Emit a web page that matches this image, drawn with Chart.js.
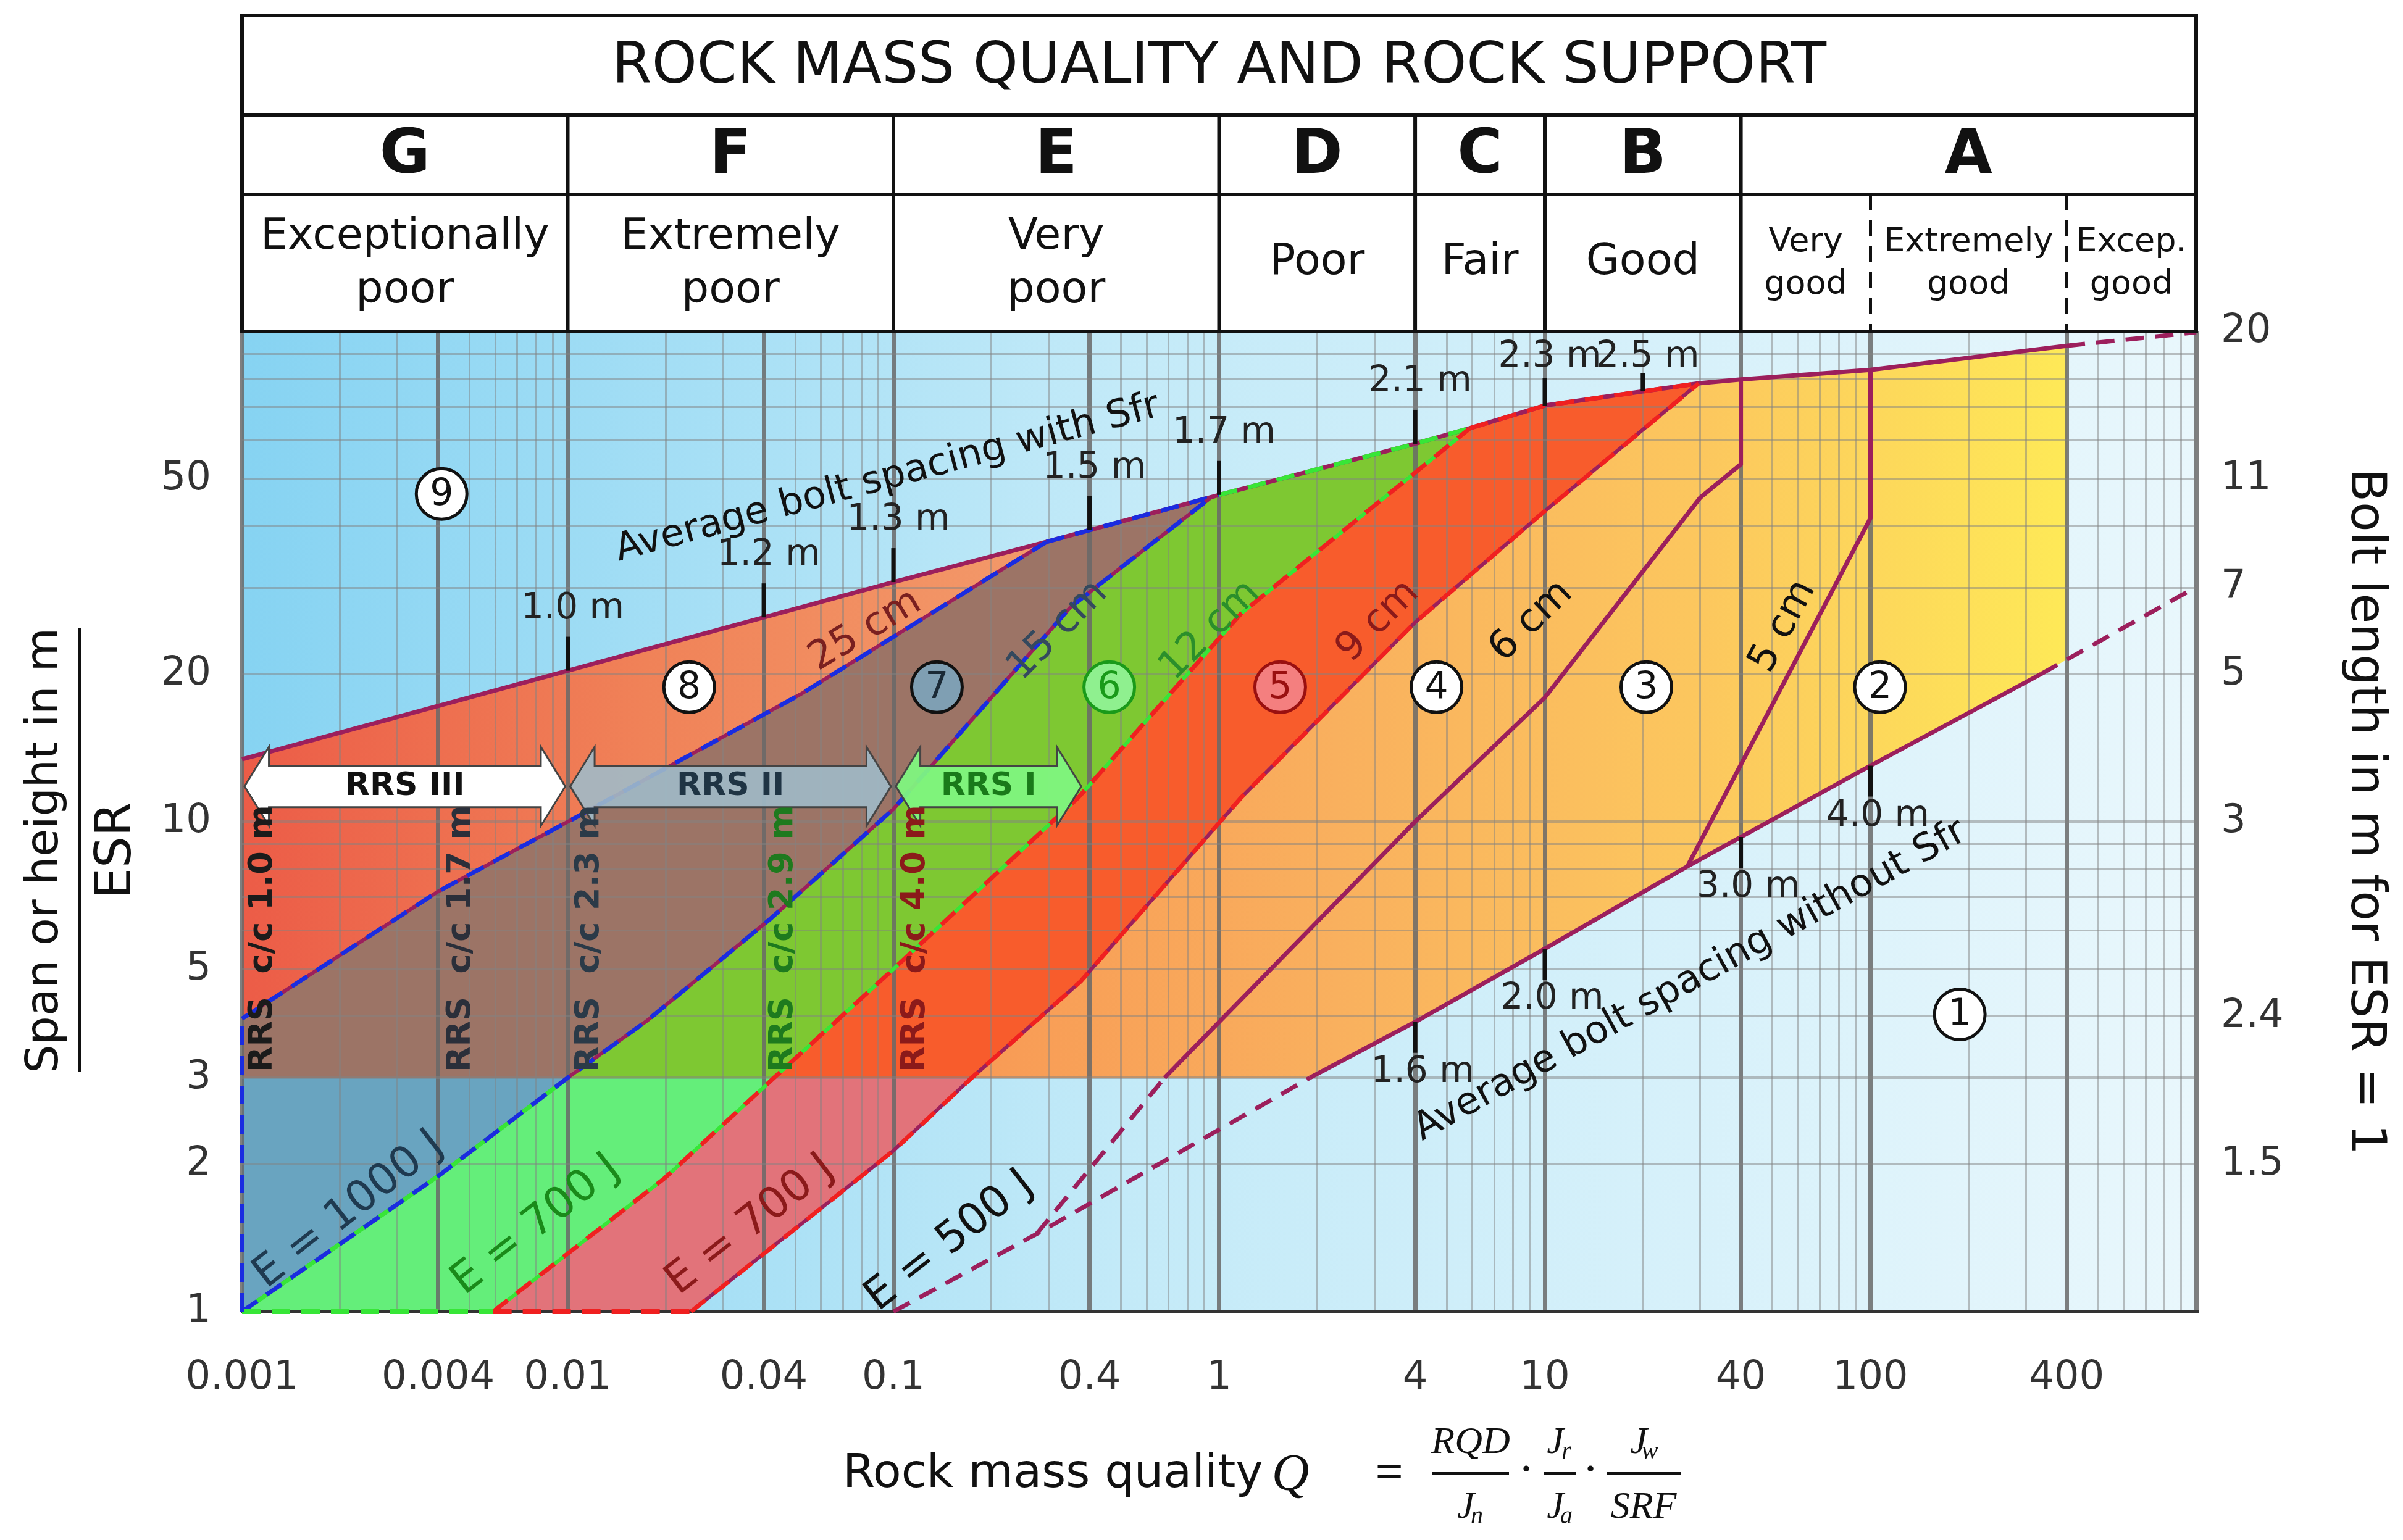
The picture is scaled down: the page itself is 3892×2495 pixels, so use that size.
<!DOCTYPE html>
<html><head><meta charset="utf-8">
<script src="https://cdn.jsdelivr.net/npm/chart.js@4.4.1/dist/chart.umd.min.js"></script>
<style>html,body{margin:0;padding:0;background:#fff}canvas{display:block}</style>
</head><body>
<canvas id="c" width="3892" height="2495" style="width:3892px;height:2495px"></canvas>
<script>
// ---------- DATA (Q, Span/ESR) ----------
const TOP_LINE = [[0.001,13.4],[0.1,30.8],[0.295,37.2],[1,46.4],[4,59],[5.9,63.5],[10,70.6],[29.7,78.4],[40,79.8],[100,83.5],[400,93.5]];
const TOP_DASH = [[400,93.5],[1000,99.6]];
const LINE_25CM = [[0.001,3.96],[0.004,7.2],[0.0115,10.5],[0.052,18.2],[0.295,37.2]];
const LINE_15CM = [[0.001,1],[0.004,1.89],[0.01,3],[0.0175,3.92],[0.042,6.34],[0.1,10.6],[0.35,27.4],[0.95,46.0]];
const LINE_12CM = [[0.0059,1],[0.0198,1.87],[0.043,3],[0.1,5],[0.37,11.2],[1.17,26.6],[5.9,63.5]];
const LINE_9CM = [[0.0239,1],[0.1,2.13],[0.174,3],[0.376,4.72],[1.17,11.2],[4,25.5],[10,43],[29.7,78.4]];
const LINE_6CM_DASH = [[0.275,1.44],[0.68,3]];
const LINE_6CM = [[0.68,3],[4,10],[10,17.9],[30,45.8],[40,53.6],[40,79.8]];
const LINE_5CM = [[27.4,8.1],[100,41.6],[100,83.5]];
const BOTTOM_DASH_A = [[0.1,1],[0.275,1.44],[1.9,3]];
const BOTTOM_LINE = [[1.9,3],[4,3.9],[10,5.5],[27.4,8.1],[100,13],[334,20]];
const BOTTOM_DASH_B = [[334,20],[1000,30.1]];
const BASE_GREEN = [[0.001,1],[0.0059,1]];
const BASE_RED = [[0.0059,1],[0.0239,1]];
const LEFT_EDGE = [[0.001,1],[0.001,3.96]];

const X_TICK_VALUES = [0.001,0.004,0.01,0.04,0.1,0.4,1,4,10,40,100,400];
const X_TICK_LABELS = ['0.001','0.004','0.01','0.04','0.1','0.4','1','4','10','40','100','400'];
const Y_TICK_VALUES = [1,2,3,5,10,20,50];
const Y_TICK_LABELS = ['1','2','3','5','10','20','50'];
const Y2_TICK_VALUES = [2,4,10,20,30,50,100];
const Y2_TICK_LABELS = ['1.5','2.4','3','5','7','11','20'];

const CLASS_BOUNDS = [0.001,0.01,0.1,1,4,10,40,1000];
const CLASS_LETTERS = ['G','F','E','D','C','B','A'];
const CLASS_NAMES = [['Exceptionally','poor'],['Extremely','poor'],['Very','poor'],['Poor'],['Fair'],['Good']];
const A_BOUNDS = [40,100,400,1000];
const A_NAMES = [['Very','good'],['Extremely','good'],['Excep.','good']];

const CIRCLES = [[188,4.04,'1'],[107,18.8,'2'],[20.5,18.8,'3'],[4.65,18.8,'4'],[1.54,18.8,'5'],[0.46,18.8,'6'],[0.136,18.8,'7'],[0.0236,18.8,'8'],[0.0041,46.6,'9']];
const TOP_TICK_Q = [0.01,0.04,0.1,0.4,1,4,10,20];
const TOP_TICK_LABELS = ['1.0 m','1.2 m','1.3 m','1.5 m','1.7 m','2.1 m','2.3 m','2.5 m'];
const BOT_TICK_Q = [4,10,40,100];
const BOT_TICK_LABELS = ['1.6 m','2.0 m','3.0 m','4.0 m'];
const LINE_LABELS = [['25 cm',0.082,24.5,-31,'#7a2020'],['15 cm',0.32,24.5,-45,'#34495e'],['12 cm',0.94,24.5,-45,'#2b8f2b'],['9 cm',3.08,25.6,-45,'#8b1a1a'],['6 cm',9.1,25.6,-44,'#111'],['5 cm',54,25,-62,'#111']];
const E_LABELS = [['E = 1000 J',0.00213,1.61,'#1f3a50'],['E = 700 J',0.008,1.5,'#1a8a1a'],['E = 700 J',0.0364,1.5,'#8b1a1a'],['E = 500 J',0.149,1.39,'#111']];
const RRS_Q = [0.00116,0.0047,0.0117,0.046,0.117];
const RRS_TEXT = ['RRS  c/c 1.0 m','RRS  c/c 1.7 m','RRS  c/c 2.3 m','RRS  c/c 2.9 m','RRS  c/c 4.0 m'];
const RRS_COLORS = ['#1b1b1b','#2b2f3a','#2b3a48','#1e7a1e','#8b1a1a'];
const ARROWS = [['RRS III',0.001,0.01,'#ffffff','#111'],['RRS II',0.01,0.1,'rgba(160,186,200,0.9)','#1f3444'],['RRS I',0.1,0.384,'rgba(128,245,128,0.95)','#1a7a1a']];
const ARROW_S = [9.8,10.7,13.0,14.2];

// ---------- helpers ----------
const PURPLE = '#9c1f5c';
const nice = v => Number(v.toPrecision(6));
const XGRID = []; for (let d=-3; d<=2; d++) for (let m=1; m<=9; m++) XGRID.push(nice(m*Math.pow(10,d))); XGRID.push(1000);
const YGRID = []; for (let d=0; d<=1; d++) for (let m=1; m<=9; m++) YGRID.push(nice(m*Math.pow(10,d))); YGRID.push(100);
const near = (a,b)=>Math.abs(a-b)<=1e-9*Math.max(1,Math.abs(b));
const lbl = (vals,labels,v)=>{ const i = vals.findIndex(x=>near(x,v)); return i<0?'':labels[i]; };
function interp(line,q){
  for (let i=0;i<line.length-1;i++){ const [q1,s1]=line[i],[q2,s2]=line[i+1];
    if (q>=q1 && q<=q2 && q2>q1){ const f=(Math.log10(q)-Math.log10(q1))/(Math.log10(q2)-Math.log10(q1)); return Math.pow(10,Math.log10(s1)+f*(Math.log10(s2)-Math.log10(s1))); } }
  return line[line.length-1][1];
}
function ds(arr,color,width,dash,offset){ return {data:arr.map(p=>({x:p[0],y:p[1]})),borderColor:color,borderWidth:width,borderDash:dash||[],borderDashOffset:offset||0,pointRadius:0,fill:false,tension:0,clip:30}; }
const DASH=[30,18];

// listed bottom-to-top; order property makes later ones draw on top
const layers = [
  ds(TOP_LINE,PURPLE,7), ds(TOP_DASH,PURPLE,7,DASH),
  ds(TOP_LINE.filter(p=>p[0]>=0.295&&p[0]<=1),'#1a2ce0',7,DASH),
  ds(TOP_LINE.filter(p=>p[0]>=1&&p[0]<=5.9),'#37e637',7,DASH),
  ds(TOP_LINE.filter(p=>p[0]>=5.9&&p[0]<=29.7),'#f02020',7,DASH),
  ds(LINE_25CM,PURPLE,6), ds(LINE_25CM,'#1a2ce0',7,DASH),
  ds(LINE_15CM,PURPLE,6), ds(LINE_15CM.filter(p=>p[0]<=0.01),'#37e637',7,DASH,24), ds(LINE_15CM,'#1a2ce0',7,DASH),
  ds(LINE_12CM,'#37e637',6), ds(LINE_12CM,'#f02020',7,DASH),
  ds(LINE_9CM,PURPLE,6), ds(LINE_9CM,'#f02020',7,DASH),
  ds(LINE_6CM,PURPLE,7), ds(LINE_6CM_DASH,PURPLE,7,DASH),
  ds(LINE_5CM,PURPLE,7),
  ds(BOTTOM_DASH_A,PURPLE,7,DASH), ds(BOTTOM_LINE,PURPLE,7), ds(BOTTOM_DASH_B,PURPLE,7,DASH),
  ds(BASE_GREEN,'#37e637',8,DASH), ds(BASE_RED,'#f02020',8,DASH), ds(LEFT_EDGE,'#1a2ce0',7,DASH)
];
layers.forEach((d,i)=>{ d.order = layers.length - i; });
const datasets = layers;

function txt(ctx,s,x,y,font,color,angle,align,base){
  ctx.save(); ctx.translate(x,y); ctx.rotate((angle||0)*Math.PI/180);
  ctx.font=font; ctx.fillStyle=color; ctx.textAlign=align||'center'; ctx.textBaseline=base||'middle';
  ctx.fillText(s,0,0); ctx.restore();
}
function fitFont(ctx,s,width,weight,family){ ctx.font=`${weight} 100px ${family}`; const w=ctx.measureText(s).width; return `${weight} ${Math.round(100*width/w)}px ${family}`; }
const SANS='"DejaVu Sans", sans-serif';

const plugin = {
  id:'rock',
  beforeDraw(chart){
    const {ctx, chartArea:a} = chart; const X=chart.scales.x, Y=chart.scales.y;
    const P = p=>[X.getPixelForValue(p[0]), Y.getPixelForValue(p[1])];
    ctx.save();
    ctx.fillStyle='#fff'; ctx.fillRect(0,0,chart.width,chart.height);
    const g=ctx.createLinearGradient(a.left,0,a.right,0);
    g.addColorStop(0,'#86d3f2'); g.addColorStop(0.45,'#c3eaf8'); g.addColorStop(1,'#e9f7fc');
    ctx.fillStyle=g; ctx.fillRect(a.left,a.top,a.right-a.left,a.bottom-a.top);
    const poly=(pts,fill)=>{ ctx.beginPath(); pts.forEach((p,i)=>{const [x,y]=P(p); i?ctx.lineTo(x,y):ctx.moveTo(x,y);}); ctx.closePath(); ctx.fillStyle=fill; ctx.fill(); };
    const hg=(q1,q2,stops)=>{ const gg=ctx.createLinearGradient(X.getPixelForValue(q1),0,X.getPixelForValue(q2),0); stops.forEach((c,i)=>gg.addColorStop(i/(stops.length-1),c)); return gg; };
    poly([...TOP_LINE.filter(p=>p[0]<=0.295), ...LINE_25CM.slice().reverse()], hg(0.001,0.3,['#ec5c47','#f08258','#f39a6a']));
    poly([[0.001,3],...LINE_25CM, ...LINE_15CM.filter(p=>p[0]>=0.01).reverse()], '#9c7466');
    poly([[0.001,1],[0.001,3],[0.01,3], ...LINE_15CM.filter(p=>p[0]<=0.01).reverse()], '#69a4c0');
    poly([...LINE_15CM.filter(p=>p[0]>=0.01), ...TOP_LINE.filter(p=>p[0]>0.95&&p[0]<5.9), ...LINE_12CM.filter(p=>p[0]>=0.043).reverse()], '#7ec832');
    poly([...LINE_15CM.filter(p=>p[0]<=0.01), ...LINE_12CM.filter(p=>p[0]<=0.043).reverse()], '#64ee7a');
    poly([...LINE_12CM.filter(p=>p[0]>=0.043), ...TOP_LINE.filter(p=>p[0]>5.9&&p[0]<29.7), ...LINE_9CM.filter(p=>p[0]>=0.174).reverse()], '#f85c2c');
    poly([...LINE_12CM.filter(p=>p[0]<=0.043), ...LINE_9CM.filter(p=>p[0]<=0.174).reverse()], '#e2737a');
    poly([...LINE_9CM.filter(p=>p[0]>=0.174), ...TOP_LINE.filter(p=>p[0]>29.7), [400,interp(BOTTOM_DASH_B,400)], ...BOTTOM_LINE.slice().reverse()], hg(0.174,400,['#f89a55','#f9b05e','#fcc75e','#fee957']));
    ctx.restore();
  },
  afterDatasetsDraw(chart){
    const {ctx, chartArea:a} = chart; const X=chart.scales.x, Y=chart.scales.y;
    const px=q=>X.getPixelForValue(q), py=s=>Y.getPixelForValue(s);
    ctx.save();
    ARROWS.forEach(([t,q1,q2,fill,tc])=>{
      const x1=px(q1)+4, x2=px(q2)-4, h=px(q1*Math.pow(10,0.075))-px(q1);
      const yb=py(ARROW_S[0]), ysb=py(ARROW_S[1]), yst=py(ARROW_S[2]), yt=py(ARROW_S[3]), yc=(yb+yt)/2;
      ctx.beginPath();
      ctx.moveTo(x1,yc); ctx.lineTo(x1+h,yt); ctx.lineTo(x1+h,yst); ctx.lineTo(x2-h,yst); ctx.lineTo(x2-h,yt); ctx.lineTo(x2,yc);
      ctx.lineTo(x2-h,yb); ctx.lineTo(x2-h,ysb); ctx.lineTo(x1+h,ysb); ctx.lineTo(x1+h,yb); ctx.closePath();
      ctx.fillStyle=fill; ctx.fill(); ctx.strokeStyle='#444'; ctx.lineWidth=3; ctx.stroke();
      txt(ctx,t,(x1+x2)/2,yc,`bold 52px ${SANS}`,tc);
    });
    RRS_Q.forEach((q,i)=>txt(ctx,RRS_TEXT[i],px(q),py(3.08),`bold 54px ${SANS}`,RRS_COLORS[i],-90,'left','middle'));
    CIRCLES.forEach(([q,s,n])=>{
      const x=px(q), y=py(s); let fill='#fff', col='#111';
      if(n==='5'){fill='#f47f7f';col='#9a1010';} if(n==='6'){fill='#8ff08f';col='#1a9a1a';} if(n==='7'){fill='#7f9fb3';col='#1b2a36';}
      ctx.beginPath(); ctx.arc(x,y,41,0,2*Math.PI); ctx.fillStyle=fill; ctx.fill(); ctx.lineWidth=5; ctx.strokeStyle=n==='6'?'#1a9a1a':(n==='5'?'#9a1010':'#111'); ctx.stroke();
      txt(ctx,n,x,y+2,`60px ${SANS}`,col);
    });
    LINE_LABELS.forEach(([t,q,s,ang,c])=>txt(ctx,t,px(q),py(s),`64px ${SANS}`,c,ang));
    E_LABELS.forEach(([t,q,s,c])=>txt(ctx,t,px(q),py(s),`70px ${SANS}`,c,-38));
    txt(ctx,'Average bolt spacing with Sfr',px(0.096),py(50.1),`62px ${SANS}`,'#111',-15);
    txt(ctx,'Average bolt spacing without Sfr',px(28),py(4.73),`62px ${SANS}`,'#111',-29);
    ctx.strokeStyle='#111'; ctx.lineWidth=7;
    TOP_TICK_Q.forEach((q,i)=>{ const x=px(q), y=py(interp(TOP_LINE,q)); const tl=Math.min(55, y-a.top-75);
      ctx.beginPath(); ctx.moveTo(x,y); ctx.lineTo(x,y-Math.max(tl,30)); ctx.stroke();
      txt(ctx,TOP_TICK_LABELS[i],x+8,Math.max(y-100,a.top+42),`58px ${SANS}`,'#222'); });
    BOT_TICK_Q.forEach((q,i)=>{ const x=px(q), y=py(interp(BOTTOM_LINE,q)); ctx.beginPath(); ctx.moveTo(x,y); ctx.lineTo(x,y+50); ctx.stroke();
      txt(ctx,BOT_TICK_LABELS[i],x+12,y+82,`58px ${SANS}`,'#222'); });
    ctx.restore();
  },
  afterDraw(chart){
    const {ctx, chartArea:a} = chart; const X=chart.scales.x;
    const px=q=>X.getPixelForValue(q);
    ctx.save();
    const L=a.left, R=a.right, y0=25, y1=186, y2=315, y3=a.top;
    ctx.fillStyle='#fff'; ctx.fillRect(L,y0,R-L,y3-y0);
    ctx.strokeStyle='#111'; ctx.lineWidth=6;
    ctx.strokeRect(L,y0,R-L,y3-y0);
    ctx.beginPath(); ctx.moveTo(L,y1); ctx.lineTo(R,y1); ctx.moveTo(L,y2); ctx.lineTo(R,y2);
    CLASS_BOUNDS.slice(1,-1).forEach(q=>{ctx.moveTo(px(q),y1); ctx.lineTo(px(q),y3);}); ctx.stroke();
    ctx.setLineDash([26,16]); ctx.lineWidth=5; ctx.beginPath();
    A_BOUNDS.slice(1,-1).forEach(q=>{ctx.moveTo(px(q),y2); ctx.lineTo(px(q),y3);}); ctx.stroke(); ctx.setLineDash([]);
    txt(ctx,'ROCK MASS QUALITY AND ROCK SUPPORT',(L+R)/2,(y0+y1)/2+4,fitFont(ctx,'ROCK MASS QUALITY AND ROCK SUPPORT',1966,'',SANS),'#111');
    CLASS_LETTERS.forEach((t,i)=>{ const cx=(px(CLASS_BOUNDS[i])+px(CLASS_BOUNDS[i+1]))/2; txt(ctx,t,cx,(y1+y2)/2+4,`bold 100px ${SANS}`,'#111'); });
    CLASS_NAMES.forEach((ls,i)=>{ const cx=(px(CLASS_BOUNDS[i])+px(CLASS_BOUNDS[i+1]))/2;
      if(ls.length===1) txt(ctx,ls[0],cx,426,`70px ${SANS}`,'#111');
      else { txt(ctx,ls[0],cx,385,`70px ${SANS}`,'#111'); txt(ctx,ls[1],cx,472,`70px ${SANS}`,'#111'); } });
    A_NAMES.forEach((ls,i)=>{ const cx=(px(A_BOUNDS[i])+px(A_BOUNDS[i+1]))/2;
      txt(ctx,ls[0],cx,393,`54px ${SANS}`,'#111'); txt(ctx,ls[1],cx,462,`54px ${SANS}`,'#111'); });
    txt(ctx,'Span or height in m',74,1378,fitFont(ctx,'Span or height in m',720,'',SANS),'#111',-90);
    ctx.strokeStyle='#111'; ctx.lineWidth=4; ctx.beginPath(); ctx.moveTo(129,1018); ctx.lineTo(129,1737); ctx.stroke();
    txt(ctx,'ESR',190,1378,`80px ${SANS}`,'#111',-90);
    txt(ctx,'Bolt length in m for ESR = 1',3830,1315,fitFont(ctx,'Bolt length in m for ESR = 1',1117,'',SANS),'#111',90);
    txt(ctx,'Rock mass quality',1365,2390,fitFont(ctx,'Rock mass quality',685,'',SANS),'#111',0,'left');
    const SER='"Liberation Serif", serif';
    txt(ctx,'Q',2090,2392,`italic 84px ${SER}`,'#111');
    txt(ctx,'=',2250,2390,`80px ${SER}`,'#111');
    const frac=(cx,hw,num,den,dsub,nsub)=>{
      ctx.fillStyle='#111'; ctx.fillRect(cx-hw,2385,2*hw,5);
      if(nsub){ txt(ctx,num,cx-8,2338,`italic 62px ${SER}`,'#111'); txt(ctx,nsub,cx+10,2352,`italic 40px ${SER}`,'#111','left'); }
      else txt(ctx,num,cx,2338,`italic 62px ${SER}`,'#111');
      if(dsub){ txt(ctx,den,cx-8,2443,`italic 62px ${SER}`,'#111'); txt(ctx,dsub,cx+10,2457,`italic 40px ${SER}`,'#111','left'); }
      else txt(ctx,den,cx,2443,`italic 62px ${SER}`,'#111');
    };
    frac(2382,62,'RQD','J','n',null);
    txt(ctx,'·',2472,2385,`80px ${SER}`,'#111');
    frac(2527,26,'J','J','a','r');
    txt(ctx,'·',2576,2385,`80px ${SER}`,'#111');
    frac(2662,60,'J','SRF',null,'w');
    ctx.restore();
  }
};

const tickFont = {family:'"DejaVu Sans", sans-serif', size:64};
const xMajor = v => { const m = Math.round(v/Math.pow(10,Math.floor(Math.log10(v)+1e-9))); return m===1||m===4; };

new Chart(document.getElementById('c'), {
  type:'line',
  data:{datasets},
  plugins:[plugin],
  options:{
    responsive:false, devicePixelRatio:1, animation:false,
    layout:{padding:{top:537,left:0,right:0,bottom:0}},
    plugins:{legend:{display:false},tooltip:{enabled:false}},
    scales:{
      x:{type:'logarithmic',min:0.001,max:1000,
        afterBuildTicks:s=>{s.ticks=XGRID.map(v=>({value:v}));},
        afterFit:s=>{s.height=370;},
        ticks:{autoSkip:false,maxRotation:0,minRotation:0,padding:70,color:'#333',font:tickFont,callback:v=>lbl(X_TICK_VALUES,X_TICK_LABELS,v)},
        grid:{drawTicks:false,color:c=>xMajor(c.tick.value)?'rgba(105,105,105,0.85)':'rgba(130,130,130,0.5)',lineWidth:c=>xMajor(c.tick.value)?7:3},
        border:{display:true,color:'#333',width:5}},
      y:{type:'logarithmic',position:'left',min:1,max:100,
        afterBuildTicks:s=>{s.ticks=YGRID.map(v=>({value:v}));},
        afterFit:s=>{s.width=392;},
        ticks:{autoSkip:false,padding:50,color:'#333',font:tickFont,callback:v=>lbl(Y_TICK_VALUES,Y_TICK_LABELS,v)},
        grid:{drawTicks:false,color:'rgba(130,130,130,0.5)',lineWidth:c=>[1,3,10,100].includes(c.tick.value)?4:3},
        border:{display:false}},
      y2:{type:'logarithmic',position:'right',min:1,max:100,
        afterBuildTicks:s=>{s.ticks=Y2_TICK_VALUES.map(v=>({value:v}));},
        afterFit:s=>{s.width=335;},
        ticks:{autoSkip:false,padding:40,color:'#333',font:tickFont,callback:v=>lbl(Y2_TICK_VALUES,Y2_TICK_LABELS,v)},
        grid:{display:false,drawTicks:false},border:{display:false}}
    }
  }
});
</script>
</body></html>
